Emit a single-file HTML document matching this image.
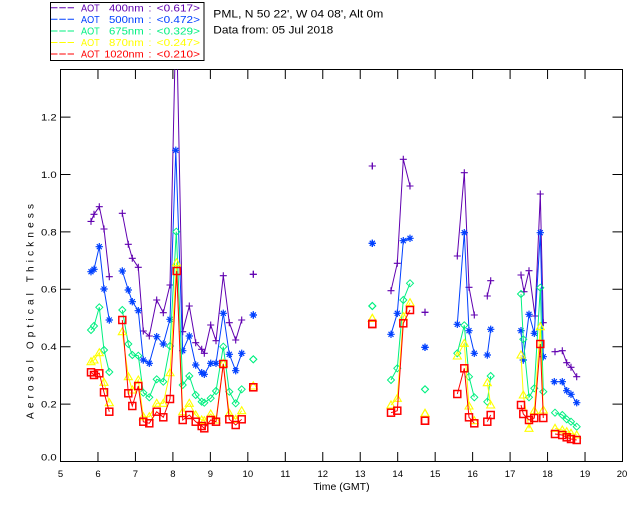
<!DOCTYPE html>
<html><head><meta charset="utf-8"><style>
html,body{margin:0;padding:0;background:#fff;}
svg{display:block;font-family:"Liberation Sans",sans-serif;}
</style></head><body>
<svg width="640" height="512" viewBox="0 0 640 512" xmlns="http://www.w3.org/2000/svg">
<defs>
<clipPath id="cp"><rect x="60.5" y="69.5" width="562" height="392"/></clipPath>
<marker id="mp" markerUnits="userSpaceOnUse" markerWidth="12" markerHeight="12" refX="6" refY="6" overflow="visible"><path d="M2.5 6H9.5M6 2.5V9.5" stroke="#6000b0" stroke-width="1.1" fill="none"/></marker>
<marker id="mb" markerUnits="userSpaceOnUse" markerWidth="12" markerHeight="12" refX="6" refY="6" overflow="visible"><path d="M2.3 6H9.7M6 2.3V9.7M3.5 3.5L8.5 8.5M8.5 3.5L3.5 8.5" stroke="#0040ff" stroke-width="1.2" fill="none"/></marker>
<marker id="mg" markerUnits="userSpaceOnUse" markerWidth="12" markerHeight="12" refX="6" refY="6" overflow="visible"><path d="M6 2.5L9.5 6L6 9.5L2.5 6Z" stroke="#00f080" stroke-width="1" fill="none"/></marker>
<marker id="my" markerUnits="userSpaceOnUse" markerWidth="12" markerHeight="12" refX="6" refY="6" overflow="visible"><path d="M6 2L10 9L2 9Z" stroke="#ffff00" stroke-width="1.1" fill="none"/></marker>
<marker id="mr" markerUnits="userSpaceOnUse" markerWidth="12" markerHeight="12" refX="6" refY="6" overflow="visible"><rect x="2.5" y="2.5" width="7" height="7" stroke="#ff0000" stroke-width="1.5" fill="none"/></marker>
</defs>
<rect width="640" height="512" fill="#fff"/>

<!-- legend -->
<rect x="50.5" y="2.5" width="153.5" height="58" fill="none" stroke="#000" stroke-width="1"/>
<g stroke-width="1" stroke-dasharray="6.5 1.8">
<line x1="51" y1="7.8" x2="74" y2="7.8" stroke="#6000b0"/>
<line x1="51" y1="19.3" x2="74" y2="19.3" stroke="#0040ff"/>
<line x1="51" y1="31" x2="74" y2="31" stroke="#00f080"/>
<line x1="51" y1="42.5" x2="74" y2="42.5" stroke="#ffff00"/>
<line x1="51" y1="54" x2="74" y2="54" stroke="#ff0000"/>
</g>
<g font-size="10.5">
<g fill="#6000b0"><text x="81" y="11.5" textLength="18.7" lengthAdjust="spacingAndGlyphs">AOT</text><text x="109" y="11.5" textLength="34.7" lengthAdjust="spacingAndGlyphs">400nm</text><text x="148.5" y="11.5">:</text><text x="156.7" y="11.5" textLength="43.3" lengthAdjust="spacingAndGlyphs">&lt;0.617&gt;</text></g>
<g fill="#0040ff"><text x="81" y="23" textLength="18.7" lengthAdjust="spacingAndGlyphs">AOT</text><text x="109" y="23" textLength="34.7" lengthAdjust="spacingAndGlyphs">500nm</text><text x="148.5" y="23">:</text><text x="156.7" y="23" textLength="43.3" lengthAdjust="spacingAndGlyphs">&lt;0.472&gt;</text></g>
<g fill="#00f080"><text x="81" y="34.6" textLength="18.7" lengthAdjust="spacingAndGlyphs">AOT</text><text x="109" y="34.6" textLength="34.7" lengthAdjust="spacingAndGlyphs">675nm</text><text x="148.5" y="34.6">:</text><text x="156.7" y="34.6" textLength="43.3" lengthAdjust="spacingAndGlyphs">&lt;0.329&gt;</text></g>
<g fill="#ffff00"><text x="81" y="46.2" textLength="18.7" lengthAdjust="spacingAndGlyphs">AOT</text><text x="109" y="46.2" textLength="34.7" lengthAdjust="spacingAndGlyphs">870nm</text><text x="148.5" y="46.2">:</text><text x="156.7" y="46.2" textLength="43.3" lengthAdjust="spacingAndGlyphs">&lt;0.247&gt;</text></g>
<g fill="#ff0000"><text x="81" y="57.6" textLength="18.7" lengthAdjust="spacingAndGlyphs">AOT</text><text x="104.3" y="57.6" textLength="39.4" lengthAdjust="spacingAndGlyphs">1020nm</text><text x="148.5" y="57.6">:</text><text x="156.7" y="57.6" textLength="43.3" lengthAdjust="spacingAndGlyphs">&lt;0.210&gt;</text></g>
</g>

<!-- header text -->
<g font-size="11" fill="#000">
<text x="213.3" y="17.3" textLength="170" lengthAdjust="spacingAndGlyphs">PML, N 50 22', W 04 08', Alt 0m</text>
<text x="213.3" y="33.3" textLength="120" lengthAdjust="spacingAndGlyphs">Data from: 05 Jul 2018</text>
</g>

<!-- axes frame -->
<rect x="60.5" y="69.5" width="562" height="392" fill="none" stroke="#000" stroke-width="1"/>
<g stroke="#000" stroke-width="1">
<path d="M97.97 461.5V452M135.43 461.5V452M172.9 461.5V452M210.37 461.5V452M247.83 461.5V452M285.3 461.5V452M322.77 461.5V452M360.23 461.5V452M397.7 461.5V452M435.17 461.5V452M472.63 461.5V452M510.1 461.5V452M547.57 461.5V452M585.03 461.5V452"/>
<path d="M97.97 69.5V79M135.43 69.5V79M172.9 69.5V79M210.37 69.5V79M247.83 69.5V79M285.3 69.5V79M322.77 69.5V79M360.23 69.5V79M397.7 69.5V79M435.17 69.5V79M472.63 69.5V79M510.1 69.5V79M547.57 69.5V79M585.03 69.5V79"/>
<path d="M60.5 404.1H70.5M60.5 346.7H70.5M60.5 289.3H70.5M60.5 231.9H70.5M60.5 174.5H70.5M60.5 117.1H70.5"/>
<path d="M622.5 404.1H612.5M622.5 346.7H612.5M622.5 289.3H612.5M622.5 231.9H612.5M622.5 174.5H612.5M622.5 117.1H612.5"/>
</g>

<!-- y tick labels -->
<g font-size="9.5" fill="#000">
<text x="41" y="460.5" textLength="15.7" lengthAdjust="spacingAndGlyphs">0.0</text>
<text x="41" y="407.5" textLength="15.7" lengthAdjust="spacingAndGlyphs">0.2</text>
<text x="41" y="350.1" textLength="15.7" lengthAdjust="spacingAndGlyphs">0.4</text>
<text x="41" y="292.7" textLength="15.7" lengthAdjust="spacingAndGlyphs">0.6</text>
<text x="41" y="235.3" textLength="15.7" lengthAdjust="spacingAndGlyphs">0.8</text>
<text x="41" y="177.9" textLength="15.7" lengthAdjust="spacingAndGlyphs">1.0</text>
<text x="41" y="120.5" textLength="15.7" lengthAdjust="spacingAndGlyphs">1.2</text>
</g>
<!-- x tick labels -->
<g font-size="9.5" fill="#000" text-anchor="middle">
<text x="60.5" y="477">5</text>
<text x="97.97" y="477">6</text>
<text x="135.43" y="477">7</text>
<text x="172.9" y="477">8</text>
<text x="210.37" y="477">9</text>
<text x="247.83" y="477">10</text>
<text x="285.3" y="477">11</text>
<text x="322.77" y="477">12</text>
<text x="360.23" y="477">13</text>
<text x="397.7" y="477">14</text>
<text x="435.17" y="477">15</text>
<text x="472.63" y="477">16</text>
<text x="510.1" y="477">17</text>
<text x="547.57" y="477">18</text>
<text x="585.03" y="477">19</text>
<text x="622" y="477">20</text>
</g>
<text x="341.5" y="490" font-size="10.5" text-anchor="middle" fill="#000">Time (GMT)</text>
<text transform="translate(33.5,311.5) rotate(-90)" font-size="10" text-anchor="middle" fill="#000" textLength="215" lengthAdjust="spacing">Aerosol Optical Thickness</text>

<!-- data -->
<g clip-path="url(#cp)" fill="none" stroke-width="1">
<path stroke="#6000b0" marker-start="url(#mp)" marker-mid="url(#mp)" marker-end="url(#mp)" d="M91 221.4 L94 214.3 L99.3 206.7 L104 229 L109.3 276.7 M122.3 213.3 L128.3 244.3 L132.3 258.3 L138.3 267.3 L143.3 331 L149.3 336 L156.7 300 L163.3 312.7 L170 285 L176.2 5 L182.7 331.7 L189.3 306 L195.7 342.7 L201.7 349.3 L204.3 353.3 L210.7 325 L216 340.7 L223.3 275.7 L229.3 322.7 L235.7 340 L241.7 320 M253.3 274.3 h0.01 M372.3 166 h0.01 M391 290.7 L397.3 263.3 L403.3 159.3 L410 186 M425 312.3 h0.01 M457.3 256 L464.3 172.7 L469 287.3 L474.3 315 M487.3 296 L490.7 280.7 M521 275 L524 291.7 L529 270.7 L535 316 L540.3 194 L543.3 322.7 M555 351.7 L562.3 350.7 L566.7 362.7 L571 367.3 L576.7 376.7"/>
<path stroke="#0040ff" marker-start="url(#mb)" marker-mid="url(#mb)" marker-end="url(#mb)" d="M91 271.7 L94 269.3 L99.3 246.7 L104 289 L109.3 320 M122.3 271 L128.3 290 L132.3 301.7 L138.3 310.7 L143.3 360 L149.3 363.3 L156.7 336.7 L163.3 344 L170 319.3 L175.8 150.3 L182.7 350.7 L189.3 336 L195.7 365 L201.7 372.7 L204.3 374.3 L210.7 363.3 L216 363.3 L223.3 313.3 L229.3 354.3 L235.7 370.7 L241.7 353.3 M253.3 315 h0.01 M372.3 243.3 h0.01 M391 334.3 L397.3 313.3 L403.3 240.7 L410 238.3 M425 347.3 h0.01 M457.3 324.3 L464.3 232.7 L469 330.7 L474.3 353.3 M487.3 355 L490.7 329.3 M521 330.7 L523.3 360 L529 314.3 L534.3 333.3 L540.3 232.7 L543.3 356.7 M554.3 381.7 L562.3 381.7 L566.7 390.7 L571 394.3 L576.7 402.7"/>
<path stroke="#00f080" marker-start="url(#mg)" marker-mid="url(#mg)" marker-end="url(#mg)" d="M91 330 L94 326 L99.3 307.3 L104 350 L109.3 372 M122.3 310 L128.3 344 L132.3 355 L138.3 355.7 L143.3 392.7 L149.3 397.3 L156.7 379.3 L163.3 381.7 L170 346 L176.3 231.7 L182.7 385 L189.3 376 L195.7 395 L201.7 401.7 L204.3 402.7 L210.7 398.3 L216 391 L223.3 346.7 L229.3 391.7 L235.7 403.3 L241.7 389.3 M253.3 359.3 h0.01 M372.3 306 h0.01 M391 380 L397.3 368.3 L403.3 300 L410 283.3 M425 389.3 h0.01 M457.3 353.3 L464.3 325.3 L469 376.7 L474.3 397.3 M487.3 401.7 L490.7 376 M521 294 L523.3 339.3 L529 397.3 L534.3 388.3 L540.3 287.7 L543.3 391.7 M555 412.7 L562.3 415 L566.7 419.3 L571 421.7 L576.7 426.7"/>
<path stroke="#ffff00" marker-start="url(#my)" marker-mid="url(#my)" marker-end="url(#my)" d="M91 361.7 L94 360 L99.3 352.7 L104 382.3 L109.3 402.7 M122.3 331.7 L128.3 376.7 L132.3 390 L138.3 380 L143.3 416.7 L149.3 416.7 L156.7 403.3 L163.3 403.3 L170 372.7 L176.5 262.7 L182.7 411.7 L189.3 403.3 L195.7 415 L201.7 420 L204.3 420.7 L210.7 414 L216 420 L223.3 363.3 L229.3 413.3 L235.7 419.3 L241.7 410.7 M253.3 386 h0.01 M372.3 318.3 h0.01 M391 405 L397.3 398.3 L403.3 316.7 L410 302.7 M425 413.3 h0.01 M457.3 356 L464.3 343.3 L469 406 L474.3 420.7 M487.3 382.7 L490.7 405 M521 355 L523.3 395 L529 428.3 L534.3 410.7 L540.3 326.7 L543.3 410 M555 428.3 L562.3 430 L566.7 431.7 L571 433.3 L576.7 435"/>
<path stroke="#ff0000" marker-start="url(#mr)" marker-mid="url(#mr)" marker-end="url(#mr)" d="M91 372.3 L94 375 L99.3 373.3 L104 392.3 L109.3 411.7 M122.3 320 L128.3 393.3 L132.3 406 L138.3 386 L143.3 421.7 L149.3 423.3 L156.7 411.7 L163.3 417.3 L170 399 L176.7 271 L182.7 420 L189.3 415 L195.7 421.7 L201.7 426 L204.3 428.3 L210.7 420 L216 421.7 L223.3 364 L229.3 419.3 L235.7 425 L241.7 419.3 M253.3 387.3 h0.01 M372.3 324 h0.01 M391 412.7 L397.3 410.7 L403.3 323.3 L410 310 M425 420.7 h0.01 M457.3 394 L464.3 368.3 L469 417.3 L474.3 423.3 M487.3 421.7 L490.7 415 M521 405 L523.3 414 L529 420 L534.3 418 L540.3 344 L543.3 418 M555 434 L562.3 435 L566.7 437.3 L571 439 L576.7 440"/>
</g>
</svg>
</body></html>
